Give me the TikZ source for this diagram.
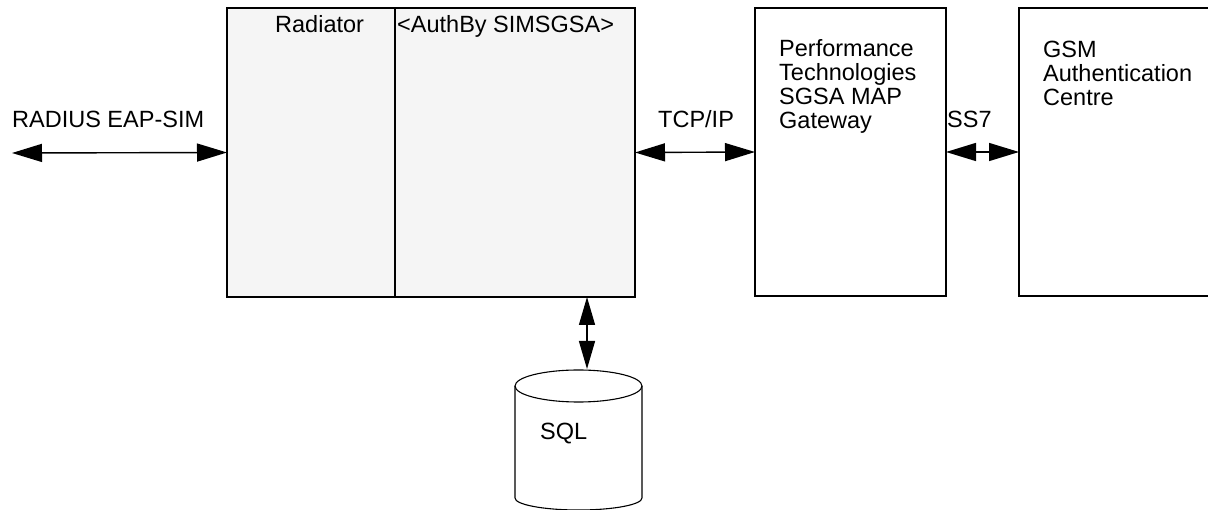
\documentclass[tikz,border=0pt]{standalone}
\usepackage{fontspec}
\setmainfont{Liberation Sans}
\usepackage{xcolor}
\usetikzlibrary{arrows.meta,positioning,calc}
\definecolor{radfill}{HTML}{F5F5F5}

\begin{document}
\begin{tikzpicture}[x=1pt,y=1pt,
    box/.style={draw, line width=1.3pt, rectangle, inner sep=0pt, outer sep=0pt, anchor=north west},
    lbl/.style={font=\fontsize{23.5}{24}\selectfont, inner sep=0pt, align=left},
    biarrow/.style={{Triangle[length=30pt,width=18pt]}-{Triangle[length=30pt,width=18pt]}, line width=1.4pt}]
            % page size
            \useasboundingbox (0,0) rectangle (1208,-510);

            % boxes
            \node[box, fill=radfill, minimum width=408, minimum height=289] (radiator) at (227,-8) {};
            \draw[line width=1.3pt] ($(radiator.north west)+(168,0)$) -- ($(radiator.south west)+(168,0)$);
            \node[box, minimum width=191, minimum height=288] (gateway) at (755,-8) {};
            \node[box, minimum width=230, minimum height=288] (auc) at (1019,-8) {};

            % box texts
            \node[lbl, anchor=base west] (radname) at (275,-33) {Radiator};
            \node[lbl, anchor=base west] (authby) at (397,-33) {<AuthBy SIMSGSA>};
            \node[lbl, anchor=north west] (gwname) at (779,-39) {Performance\\Technologies\\SGSA MAP\\Gateway};
            \node[lbl, anchor=north west] (aucname) at (1043,-41) {GSM\\Authentication\\Centre};

            % link labels
            \node[lbl, anchor=base west] (radius) at (12,-128) {RADIUS EAP-SIM};
            \node[lbl, anchor=base west] (tcpip) at (658,-128) {TCP/IP};
            \node[lbl, anchor=base west] (ss7) at (947,-128) {SS7};

            % links
            \coordinate (nas) at (12,-153);
            \draw[biarrow] (nas) -- (radiator.west);
            \draw[biarrow] (radiator.east) -- (gateway.west);
            \draw[biarrow] (gateway.east) -- (auc.west);

            % sql database
            \coordinate (sqltop) at (587,-369);
            \draw[line width=1.1pt] (515,-386) -- (515,-498) arc[start angle=180, end angle=360, x radius=63.5, y radius=12] -- (642,-386);
            \draw[line width=1.1pt] (578.5,-386) ellipse[x radius=63.5, y radius=16];
            \node[lbl, anchor=base west] (sql) at (540,-440) {SQL};
            \draw[{Triangle[length=28pt,width=16pt]}-{Triangle[length=28pt,width=16pt]}, line width=1.4pt] (sqltop |- radiator.south) -- (sqltop);
        \end{tikzpicture}
\end{document}
